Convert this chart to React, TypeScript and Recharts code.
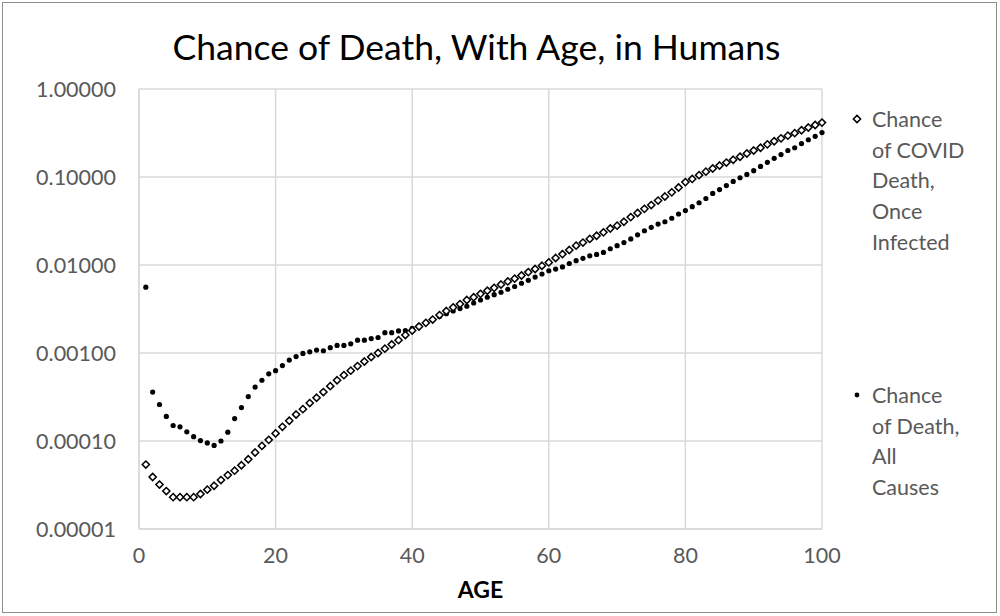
import { ScatterChart, Scatter, XAxis, YAxis, CartesianGrid } from "recharts"

const FONT = "Lato, 'Open Sans', sans-serif"
const GRAY = "#595959"

const ages = [
  1, 2, 3, 4, 5, 6, 7, 8, 9, 10, 11, 12, 13, 14, 15, 16, 17, 18, 19, 20,
  21, 22, 23, 24, 25, 26, 27, 28, 29, 30, 31, 32, 33, 34, 35, 36, 37, 38, 39, 40,
  41, 42, 43, 44, 45, 46, 47, 48, 49, 50, 51, 52, 53, 54, 55, 56, 57, 58, 59, 60,
  61, 62, 63, 64, 65, 66, 67, 68, 69, 70, 71, 72, 73, 74, 75, 76, 77, 78, 79, 80,
  81, 82, 83, 84, 85, 86, 87, 88, 89, 90, 91, 92, 93, 94, 95, 96, 97, 98, 99, 100,
]

// chance of COVID death once infected (open diamonds)
const covidDeath = [
  0.000054, 0.000039, 0.000032, 0.000027, 0.000023, 0.000023, 0.000023, 0.000023, 0.000025, 0.000028,
  0.000031, 0.000036, 0.000041, 0.000046, 0.000053, 0.000062, 0.000074, 0.000088, 0.000103, 0.000122,
  0.000145, 0.00017, 0.0002, 0.00023, 0.00027, 0.00031, 0.00036, 0.00042, 0.00049, 0.00056,
  0.00063, 0.00071, 0.0008, 0.0009, 0.001, 0.00112, 0.00125, 0.0014, 0.0016, 0.0018,
  0.002, 0.0022, 0.0024, 0.0027, 0.003, 0.0033, 0.0036, 0.004, 0.0043, 0.0047,
  0.0051, 0.0055, 0.006, 0.0065, 0.007, 0.0076, 0.0083, 0.009, 0.0098, 0.0107,
  0.012, 0.0133, 0.0148, 0.0166, 0.018, 0.0198, 0.0215, 0.0235, 0.026, 0.028,
  0.031, 0.035, 0.039, 0.0435, 0.048, 0.054, 0.06, 0.067, 0.076, 0.0875,
  0.095, 0.105, 0.115, 0.125, 0.135, 0.146, 0.157, 0.17, 0.185, 0.2,
  0.215, 0.235, 0.255, 0.275, 0.295, 0.315, 0.34, 0.365, 0.39, 0.415,
]

// chance of death, all causes (filled dots)
const allCauseDeath = [
  0.0056, 0.00036, 0.00026, 0.00019, 0.00015, 0.000145, 0.000127, 0.000112, 0.000101, 0.000095,
  0.000089, 0.0001, 0.000126, 0.00018, 0.00024, 0.00032, 0.00041, 0.00049, 0.00058, 0.00063,
  0.00072, 0.00083, 0.00091, 0.00099, 0.00103, 0.00108, 0.00106, 0.00115, 0.00122, 0.00122,
  0.00127, 0.0014, 0.0014, 0.00146, 0.0015, 0.0017, 0.0017, 0.00178, 0.0018, 0.0019,
  0.00205, 0.0022, 0.0024, 0.0026, 0.0028, 0.003, 0.0032, 0.0034, 0.0037, 0.004,
  0.0043, 0.0046, 0.0049, 0.0053, 0.0057, 0.0062, 0.0067, 0.0073, 0.0079, 0.0086,
  0.009, 0.0095, 0.0104, 0.0112, 0.0119, 0.0127, 0.0132, 0.0139, 0.0153, 0.0166,
  0.018, 0.0198, 0.022, 0.0245, 0.0268, 0.0292, 0.031, 0.034, 0.038, 0.0415,
  0.046, 0.051, 0.057, 0.065, 0.072, 0.08, 0.089, 0.098, 0.107, 0.118,
  0.132, 0.147, 0.163, 0.18, 0.2, 0.215, 0.24, 0.265, 0.29, 0.32,
]

const xTicks = [0, 20, 40, 60, 80, 100]
const yTicks = [0.00001, 0.0001, 0.001, 0.01, 0.1, 1]

const covidData = ages.map((age, i) => ({ age, p: covidDeath[i] }))
const allData = ages.map((age, i) => ({ age, p: allCauseDeath[i] }))

const Diamond = (props: any) => {
  const { cx, cy } = props
  const s = 3.6
  return (
    <polygon
      points={`${cx},${cy - s} ${cx + s},${cy} ${cx},${cy + s} ${cx - s},${cy}`}
      fill="#fff"
      stroke="#000"
      strokeWidth={1.5}
    />
  )
}

const Dot = (props: any) => <circle cx={props.cx} cy={props.cy} r={2.6} fill="#000" />

const legendText: React.CSSProperties = {
  position: "absolute",
  left: 872,
  fontFamily: FONT,
  fontSize: 21.5,
  lineHeight: "30.7px",
  color: GRAY,
}

export default function App() {
  return (
    <div style={{ position: "absolute", left: 0, top: 0, width: 1000, height: 616, background: "#fff" }}>
      <div
        style={{
          position: "absolute",
          left: 2,
          top: 2,
          width: 993,
          height: 609,
          border: "1px solid #8c8c8c",
        }}
      />
      <div
        style={{
          position: "absolute",
          left: 0,
          width: 953,
          top: 25,
          textAlign: "center",
          fontFamily: FONT,
          fontSize: 35.5,
          lineHeight: "44px",
          color: "#000",
        }}
      >
        Chance of Death, With Age, in Humans
      </div>
      <ScatterChart width={1000} height={616} margin={{ top: 89, right: 178, bottom: 27, left: 10 }}>
        <CartesianGrid stroke="#d9d9d9" strokeWidth={1.5} />
        <XAxis
          type="number"
          dataKey="age"
          domain={[0, 100]}
          ticks={xTicks}
          height={60}
          tickLine={false}
          tickSize={0}
          tickMargin={19}
          axisLine={{ stroke: "#d9d9d9", strokeWidth: 1.5 }}
          tick={{ fill: GRAY, fontSize: 21.5, fontFamily: FONT }}
          label={{
            value: "AGE",
            position: "insideBottom",
            offset: -9,
            fill: "#000",
            fontSize: 23,
            fontWeight: 700,
            fontFamily: FONT,
          }}
        />
        <YAxis
          type="number"
          dataKey="p"
          scale="log"
          domain={[0.00001, 1]}
          allowDataOverflow
          ticks={yTicks}
          width={129}
          tickLine={false}
          tickSize={0}
          tickMargin={23}
          axisLine={{ stroke: "#d9d9d9", strokeWidth: 1.5 }}
          tick={{ fill: GRAY, fontSize: 21.5, fontFamily: FONT }}
          tickFormatter={(v: number) => v.toFixed(5)}
        />
        <Scatter data={allData} shape={Dot} isAnimationActive={false} />
        <Scatter data={covidData} shape={Diamond} isAnimationActive={false} />
      </ScatterChart>
      <svg style={{ position: "absolute", left: 850, top: 112 }} width={14} height={14}>
        <polygon points="7,3.4 10.6,7 7,10.6 3.4,7" fill="#fff" stroke="#000" strokeWidth={1.5} />
      </svg>
      <div style={{ ...legendText, top: 104 }}>
        Chance
        <br />
        of COVID
        <br />
        Death,
        <br />
        Once
        <br />
        Infected
      </div>
      <svg style={{ position: "absolute", left: 850, top: 388 }} width={14} height={14}>
        <circle cx={7} cy={7} r={2.4} fill="#000" />
      </svg>
      <div style={{ ...legendText, top: 380 }}>
        Chance
        <br />
        of Death,
        <br />
        All
        <br />
        Causes
      </div>
    </div>
  )
}
